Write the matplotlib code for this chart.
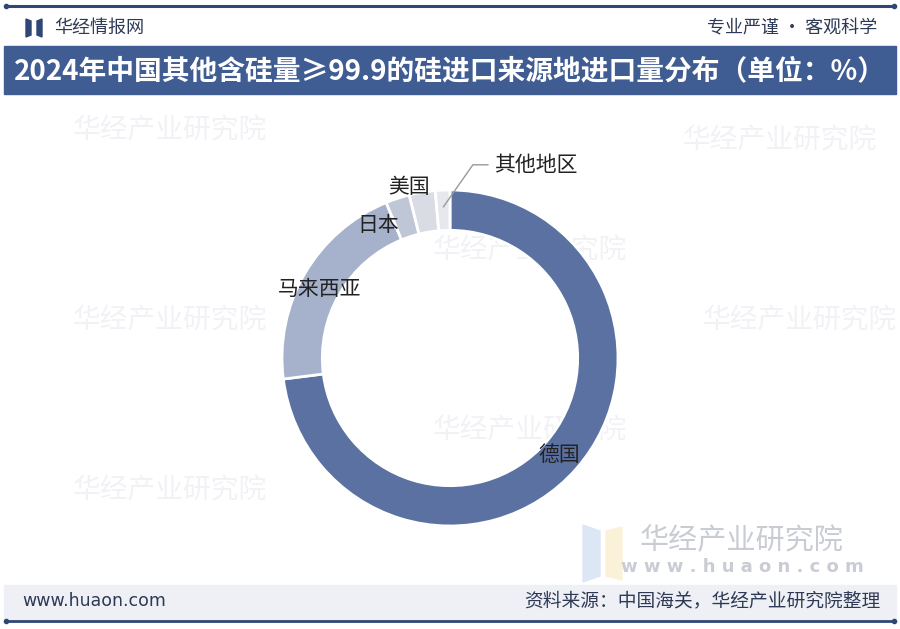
import numpy as np
import matplotlib.pyplot as plt
from matplotlib.patches import Rectangle, Polygon

plt.rcParams['font.family'] = ['Noto Sans CJK SC', 'DejaVu Sans']

# data
regions = ['德国', '马来西亚', '日本', '美国', '其他地区']
shares = [73.0, 20.8, 2.3, 2.5, 1.4]
colors = ['#5b71a2', '#a6b2cc', '#bfc6d6', '#d9dce4', '#e6e8ed']

title = '2024年中国其他含硅量≥99.9的硅进口来源地进口量分布（单位：%）'
source = '资料来源：中国海关，华经产业研究院整理'

W, H = 900, 629
fig = plt.figure(figsize=(W / 100, H / 100), dpi=100)
fig.patch.set_facecolor('white')

# background / decoration axis in pixel coordinates
bg = fig.add_axes([0, 0, 1, 1])
bg.set_xlim(0, W)
bg.set_ylim(H, 0)
bg.axis('off')

# faint watermarks
for (x, y) in [(170, 130), (530, 250), (170, 320), (530, 430), (170, 490), (780, 140), (800, 320)]:
    bg.text(x, y, '华经产业研究院', fontsize=20, color='#f1f2f5', ha='center', va='center',
            rotation=0, zorder=0)

# top line
bg.plot([6, 894], [6, 6], color='#2e4775', lw=2.2, solid_capstyle='round')
bg.plot([6, 894], [6, 6], 'o', color='#2e4775', ms=3)

# logo
bg.add_patch(Polygon([[26, 19], [31, 21], [31, 35], [26, 37]], color='#2e4775'))
bg.add_patch(Polygon([[37, 21], [42, 19], [42, 37], [37, 35]], color='#2e4775'))
bg.text(54, 28, '华经情报网', fontsize=13, color='#2e3a55', va='center', ha='left')
bg.text(877, 28, '专业严谨 • 客观科学', fontsize=13, color='#2e3a55', va='center', ha='right')

# title band
bg.add_patch(Rectangle((4, 46), 892, 48, color='#3f5c93'))
bg.text(450, 71, title, fontsize=20, color='white', fontweight='bold',
        ha='center', va='center')

# footer
bg.add_patch(Rectangle((4, 585), 892, 34, color='#eef0f5', zorder=1))
bg.text(22, 601, 'www.huaon.com', fontsize=12.5, color='#2e3a55', va='center', ha='left',
        family='DejaVu Sans', zorder=2)
bg.text(880, 601, source, fontsize=13.5, color='#2e3a55', va='center', ha='right', zorder=2)
bg.plot([6, 894], [621, 621], color='#2e4775', lw=2, solid_capstyle='round', zorder=2)
bg.plot([6, 894], [621, 621], 'o', color='#2e4775', ms=3, zorder=2)

# bottom-right watermark
bg.add_patch(Polygon([[583, 525], [600, 531], [600, 576], [583, 582]], color='#dce6f5'))
bg.add_patch(Polygon([[606, 531], [622, 527], [622, 580], [606, 576]], color='#fbf1d8'))
bg.text(742, 541, '华经产业研究院', fontsize=21, color='#c9ccd3', ha='center', va='center')
bg.text(742, 567, 'w w w . h u a o n . c o m', fontsize=13, color='#c9ccd3',
        ha='center', va='center', family='DejaVu Sans', fontweight='bold')

# donut
cx, cy, R = 450, 358, 168
ax = fig.add_axes([(cx - R) / W, (H - cy - R) / H, 2 * R / W, 2 * R / H])
wedges, _ = ax.pie(shares, colors=colors, startangle=90, counterclock=False,
                   radius=1.0, wedgeprops=dict(width=0.24, edgecolor='white', linewidth=2))
ax.set_xlim(-1, 1)
ax.set_ylim(-1, 1)
ax.set_aspect('equal')
ax.axis('off')

# label placement: radial distance and angle shift per label
label_r = [0.87, 0.88, 0.90, 1.05, None]
label_shift = [0, 2.5, 10, 4, 0]
for w, name, r, s in zip(wedges, regions, label_r, label_shift):
    mid = np.deg2rad((w.theta1 + w.theta2) / 2 + s)
    if r is None:
        px, py = np.cos(mid) * 0.9, np.sin(mid) * 0.9
        ax.annotate(name, xy=(px, py), xytext=(0.26, 1.15), fontsize=15, color='#222222',
                    ha='left', va='center',
                    arrowprops=dict(arrowstyle='-', color='#999999', lw=1,
                                    connectionstyle='angle,angleA=180,angleB=55,rad=0',
                                    shrinkA=2, shrinkB=0))
    else:
        ax.text(np.cos(mid) * r, np.sin(mid) * r, name, fontsize=15, color='#222222',
                ha='center', va='center')

fig.savefig('out.png', dpi=100)
